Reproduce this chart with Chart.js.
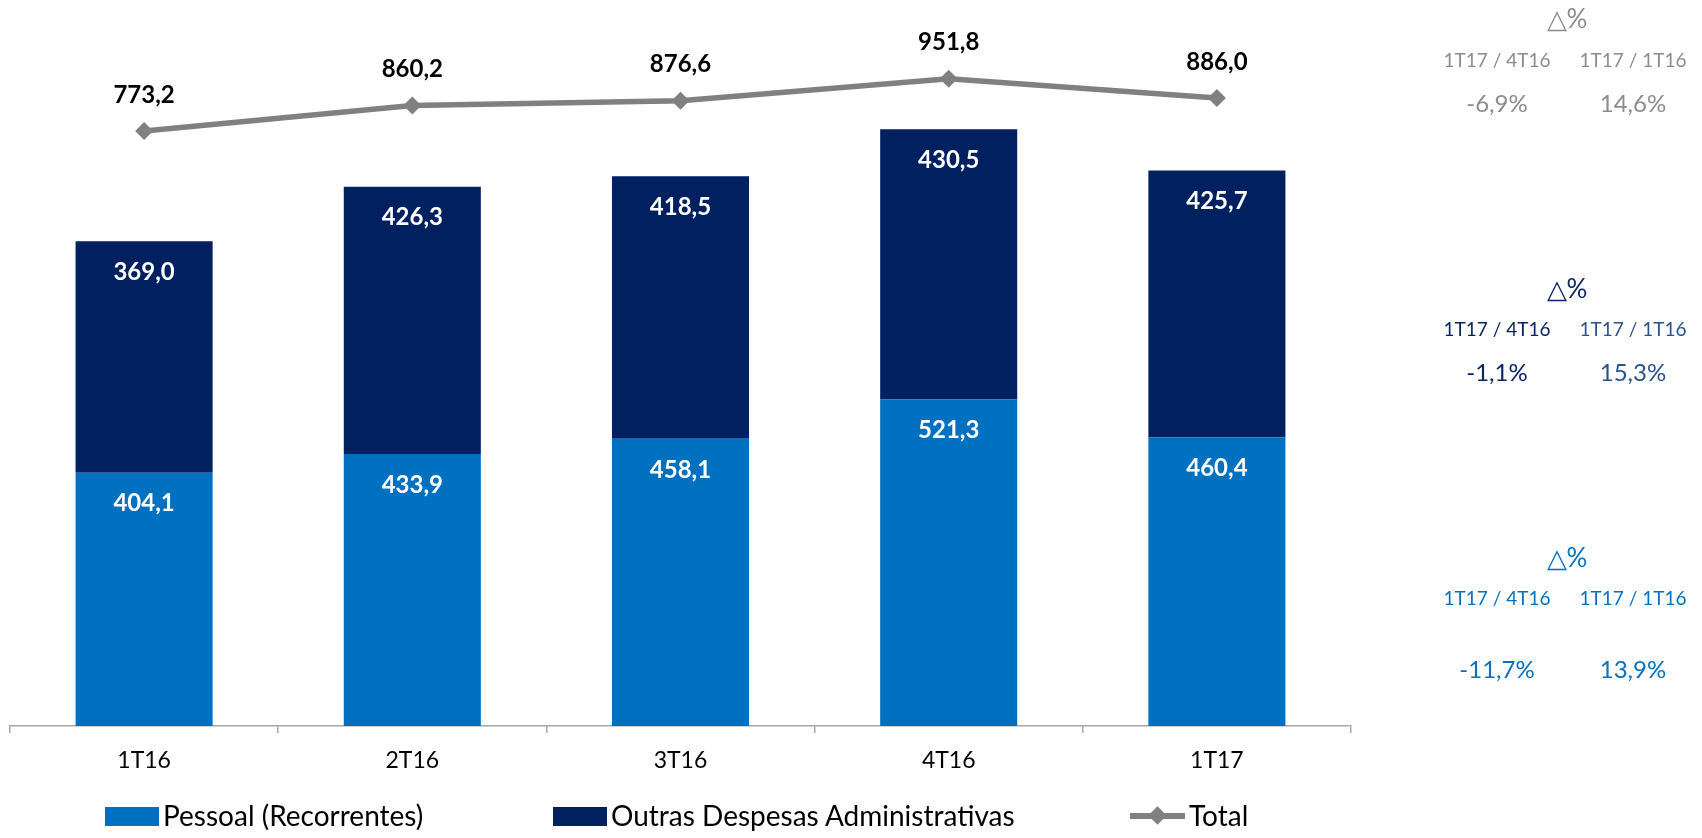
<!DOCTYPE html>
<html>
<head>
<meta charset="utf-8">
<script src="https://cdn.jsdelivr.net/npm/chart.js@4.4.0/dist/chart.umd.min.js"></script>
<style>
  html, body { margin: 0; padding: 0; background: #fff; }
  #wrap { position: relative; width: 1702px; height: 838px; font-family: Lato, "Noto Sans", sans-serif; }
  #chart { position: absolute; left: 0; top: 0; }
  .t { position: absolute; transform: translate(-50%, -50%); white-space: nowrap; }
  .tri { font-size: 26px; }
  .lab { font-size: 19px; }
  .val { font-size: 24px; }
  .leg { position: absolute; font-size: 28px; color: #000; transform: translateY(-50%); white-space: nowrap; }
  .box { position: absolute; width: 54px; height: 19px; }
</style>
</head>
<body>
<div id="wrap">
  <canvas id="chart" width="1702" height="838"></canvas>
  <div id="side"></div>
  <div id="legend"></div>
</div>
<script>
const quarters = ['1T16', '2T16', '3T16', '4T16', '1T17'];
const pessoal = [404.1, 433.9, 458.1, 521.3, 460.4];
const outras = [369.0, 426.3, 418.5, 430.5, 425.7];
const total = [773.2, 860.2, 876.6, 951.8, 886.0];

const periods = ['1T17 / 4T16', '1T17 / 1T16'];
const varTotal = ['-6,9%', '14,6%'];
const varOutras = ['-1,1%', '15,3%'];
const varPessoal = ['-11,7%', '13,9%'];

const fmt = v => v.toFixed(1).replace('.', ',');

// value labels, like excel's "inside end" for bars and "above" for the line
const valueLabels = {
  id: 'valueLabels',
  afterDatasetsDraw(chart) {
    const ctx = chart.ctx;
    ctx.save();
    ctx.font = 'bold 24px Lato';
    ctx.textAlign = 'center';
    ctx.textBaseline = 'middle';
    chart.data.datasets.forEach((ds, i) => {
      chart.getDatasetMeta(i).data.forEach((el, j) => {
        const txt = fmt(ds.data[j]);
        if (ds.type === 'line') {
          ctx.fillStyle = '#000';
          ctx.fillText(txt, el.x, el.y - 36);
        } else {
          ctx.fillStyle = '#fff';
          ctx.fillText(txt, el.x, el.y + 31);
        }
      });
    });
    ctx.restore();
  }
};

new Chart(document.getElementById('chart'), {
  data: {
    labels: quarters,
    datasets: [
      {
        type: 'line', label: 'Total', data: total, yAxisID: 'y2', order: 0,
        borderColor: '#808080', borderWidth: 5.5, tension: 0,
        pointStyle: 'rectRot', pointRadius: 9, pointBackgroundColor: '#808080', pointBorderWidth: 0
      },
      {
        type: 'bar', label: 'Pessoal (Recorrentes)', data: pessoal, yAxisID: 'y', order: 1,
        backgroundColor: '#0070C0', barPercentage: 0.511, categoryPercentage: 1
      },
      {
        type: 'bar', label: 'Outras Despesas Administrativas', data: outras, yAxisID: 'y', order: 1,
        backgroundColor: '#002060', barPercentage: 0.511, categoryPercentage: 1
      }
    ]
  },
  options: {
    responsive: false,
    animation: false,
    layout: { padding: { left: 10, right: 351, top: 20, bottom: 48 } },
    plugins: { legend: { display: false }, tooltip: { enabled: false } },
    scales: {
      x: {
        stacked: true,
        offset: true,
        grid: { display: true, drawOnChartArea: false, drawTicks: true, tickLength: 7, color: '#a6a6a6', lineWidth: 1.5, offset: true },
        border: { display: true, color: '#a6a6a6', width: 1.5 },
        ticks: { color: '#000', font: { family: 'Lato', size: 23 }, padding: 14 },
        afterFit(s) { s.height = 64; }
      },
      y: { stacked: true, display: false, min: 0, max: 1126 },
      y2: { display: false, min: -1265, max: 1153 }
    }
  },
  plugins: [valueLabels]
});

// side panel with the variations
const side = document.getElementById('side');
function put(text, cls, x, y, color) {
  const d = document.createElement('div');
  d.className = 't ' + cls;
  d.textContent = text;
  d.style.left = x + 'px';
  d.style.top = y + 'px';
  d.style.color = color;
  side.appendChild(d);
}
const colX = [1497, 1633];
const groups = [
  { vals: varTotal, y: [18, 59, 102], colors: ['#8c8c8c', '#8c8c8c'] },
  { vals: varOutras, y: [288, 328, 371], colors: ['#0a2463', '#27518f'] },
  { vals: varPessoal, y: [557, 597, 668], colors: ['#0070C0', '#0070C0'] }
];
groups.forEach(g => {
  put('\u25B3%', 'tri', 1567, g.y[0], g.colors[0]);
  periods.forEach((p, i) => put(p, 'lab', colX[i], g.y[1], g.colors[i]));
  g.vals.forEach((v, i) => put(v, 'val', colX[i], g.y[2], g.colors[i]));
});

// legend
const legend = document.getElementById('legend');
legend.innerHTML =
  '<div class="box" style="left:105px;top:807px;background:#0070C0"></div>' +
  '<div class="leg" style="left:163px;top:815px">Pessoal (Recorrentes)</div>' +
  '<div class="box" style="left:553px;top:807px;background:#002060"></div>' +
  '<div class="leg" style="left:611px;top:815px">Outras Despesas Administrativas</div>' +
  '<div style="position:absolute;left:1130px;top:813px;width:55px;height:6px;background:#808080"></div>' +
  '<div style="position:absolute;left:1151px;top:809px;width:13px;height:13px;background:#808080;transform:rotate(45deg)"></div>' +
  '<div class="leg" style="left:1189px;top:815px">Total</div>';
</script>
</body>
</html>
